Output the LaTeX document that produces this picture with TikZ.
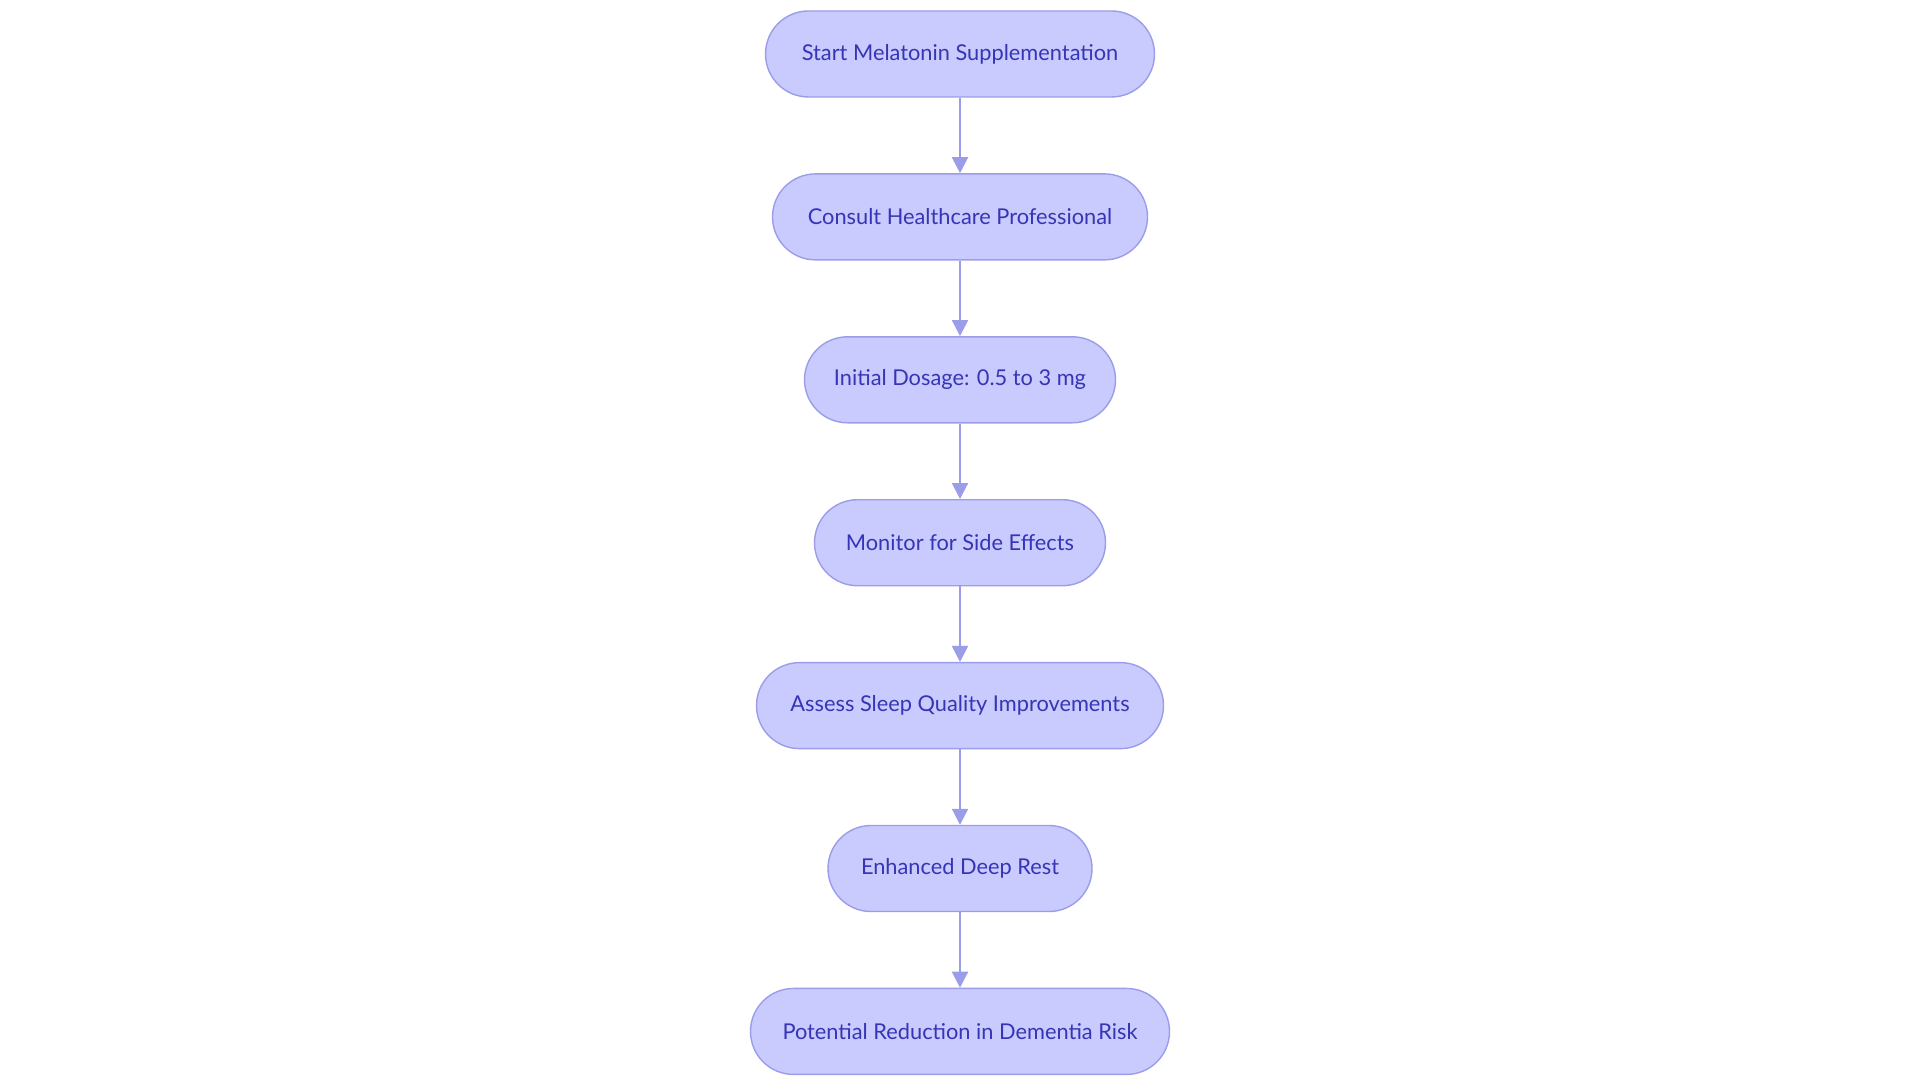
\documentclass[tikz,border=0pt]{standalone}
\usepackage{fontspec}
\setmainfont{Lato}
\usetikzlibrary{positioning,arrows.meta}
\definecolor{stepfill}{HTML}{C9CAFE}
\definecolor{stepline}{HTML}{9B9DE8}
\definecolor{steptext}{HTML}{3535B5}
\tikzset{
  stage/.style={rounded corners=0.43cm, draw=stepline, fill=stepfill, line width=0.4pt,
    text=steptext, font=\fontsize{6.2}{7}\selectfont, minimum height=0.86cm, inner sep=0pt},
  flow/.style={draw=stepline, line width=0.6pt, -{Triangle[length=0.16cm,width=0.16cm]}}
}
\begin{document}
\begin{tikzpicture}
  \useasboundingbox (0,0) rectangle (19.2,10.8);
  % Steps
  \node[stage, minimum width=3.89cm] (start) at (9.6,10.26) {Start Melatonin Supplementation};
  \node[stage, minimum width=3.75cm, below=0.755cm of start] (consult) {Consult Healthcare Professional};
  \node[stage, minimum width=3.11cm, below=0.755cm of consult] (dosage) {Initial Dosage: 0.5 to 3 mg};
  \node[stage, minimum width=2.91cm, below=0.755cm of dosage] (monitor) {Monitor for Side Effects};
  \node[stage, minimum width=4.07cm, below=0.755cm of monitor] (assess) {Assess Sleep Quality Improvements};
  \node[stage, minimum width=2.64cm, below=0.755cm of assess] (rest) {Enhanced Deep Rest};
  \node[stage, minimum width=4.19cm, below=0.755cm of rest] (risk) {Potential Reduction in Dementia Risk};

  % Arrows
  \foreach \a/\b in {start/consult, consult/dosage, dosage/monitor, monitor/assess, assess/rest, rest/risk}
    \draw[flow] (\a) -- (\b);
\end{tikzpicture}
\end{document}
